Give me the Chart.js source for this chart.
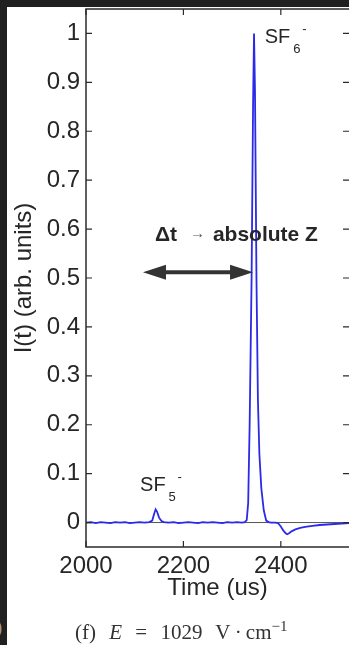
<!DOCTYPE html>
<html>
<head>
<meta charset="utf-8">
<script src="https://cdn.jsdelivr.net/npm/chart.js@4.4.1/dist/chart.umd.min.js"></script>
<style>
  html, body { margin: 0; padding: 0; background: #202020; overflow: hidden; }
  body { width: 349px; height: 645px; position: relative; }
  #panel { position: absolute; left: 7px; top: 7px; width: 342px; height: 638px; background: #fff; }
  #caption { position: absolute; left: 68px; top: 611px; font-family: "Liberation Serif", "DejaVu Serif", serif;
             font-size: 21px; color: #333; white-space: nowrap; word-spacing: 8px; }
  #caption sup { font-size: 15px; }
  #prev { position: absolute; left: -5px; top: 614px; font-family: "Liberation Serif", serif; font-size: 22px; color: #999; }
</style>
</head>
<body>
<div id="prev">)</div>
<div id="panel">
  <canvas id="chart"></canvas>
  <div id="caption">(f) <i>E</i> = 1029 V&thinsp;·&thinsp;cm<sup>−1</sup></div>
</div>
<script>
// time of flight (us) and normalised current I(t)
var timeUs = [2000, 2010, 2020, 2030, 2040, 2050, 2060, 2070, 2080, 2090, 2100, 2110, 2120, 2130,
              2136, 2140, 2143, 2146, 2150, 2155, 2160, 2170, 2180, 2190, 2200, 2210, 2220, 2230,
              2240, 2250, 2260, 2270, 2280, 2290, 2300, 2310, 2320, 2326, 2330, 2333, 2336, 2340,
              2343, 2345, 2347, 2350, 2353, 2356, 2360, 2365, 2370, 2375, 2380, 2385, 2390, 2395,
              2400, 2405, 2410, 2413, 2417, 2422, 2430, 2440, 2450, 2465, 2480, 2495, 2510, 2525, 2540];
var current = [0.000, 0.001, -0.001, 0.001, 0.000, -0.001, 0.001, 0.000, 0.001, -0.001, 0.000, 0.001, 0.000, 0.001,
               0.004, 0.018, 0.027, 0.022, 0.010, 0.003, 0.001, 0.000, 0.001, -0.001, 0.000, 0.001, 0.000, -0.001,
               0.001, 0.000, 0.001, 0.000, -0.001, 0.001, 0.000, 0.001, 0.000, 0.001, 0.005, 0.04, 0.20, 0.50,
               0.85, 1.00, 0.88, 0.50, 0.25, 0.14, 0.07, 0.025, 0.004, 0.001, 0.000, 0.000, 0.000, -0.002,
               -0.008, -0.016, -0.022, -0.024, -0.022, -0.018, -0.014, -0.011, -0.009, -0.007, -0.005, -0.004, -0.003, -0.002, -0.001];

// zero reference line
var zeroTimes = [2000, 2540];
var zeroLevel = [0, 0];

var xTicks = [2000, 2200, 2400];
var yTicks = [0, 0.1, 0.2, 0.3, 0.4, 0.5, 0.6, 0.7, 0.8, 0.9, 1];
var yTickLabels = ["0", "0.1", "0.2", "0.3", "0.4", "0.5", "0.6", "0.7", "0.8", "0.9", "1"];

var ink = "#262626";
var sans = "'Liberation Sans', Arial, sans-serif";

function chem(ctx, x, y, base, sub, sup) {
    ctx.font = "20px " + sans;
    ctx.fillText(base, x, y);
    var w = ctx.measureText(base).width;
    ctx.font = "13px " + sans;
    ctx.fillText(sub, x + w + 3, y + 10);
    ctx.fillText(sup, x + w + 12, y - 10);
}

var axesAndNotes = {
    id: "axesAndNotes",
    afterDraw: function(chart) {
        var ctx = chart.ctx, xs = chart.scales.x, ys = chart.scales.y, a = chart.chartArea;
        ctx.save();

        // box (right side runs off the page)
        ctx.strokeStyle = "#2b2b2b";
        ctx.lineWidth = 1.5;
        ctx.beginPath();
        ctx.moveTo(a.right + 2, a.top);
        ctx.lineTo(a.left, a.top);
        ctx.lineTo(a.left, a.bottom);
        ctx.lineTo(a.right + 2, a.bottom);
        ctx.stroke();

        // inward ticks
        ctx.lineWidth = 1.2;
        ctx.beginPath();
        xTicks.forEach(function(v) {
            var px = xs.getPixelForValue(v);
            ctx.moveTo(px, a.bottom); ctx.lineTo(px, a.bottom - 6);
            ctx.moveTo(px, a.top); ctx.lineTo(px, a.top + 6);
        });
        yTicks.forEach(function(v) {
            var py = ys.getPixelForValue(v);
            ctx.moveTo(a.left, py); ctx.lineTo(a.left + 6, py);
            ctx.moveTo(a.right, py); ctx.lineTo(a.right - 6, py);
        });
        ctx.stroke();

        // ion labels
        ctx.fillStyle = ink;
        ctx.textBaseline = "alphabetic";
        ctx.textAlign = "left";
        chem(ctx, xs.getPixelForValue(2367), ys.getPixelForValue(0.98), "SF", "6", "-");
        chem(ctx, xs.getPixelForValue(2111), ys.getPixelForValue(0.0635), "SF", "5", "-");

        // drift time annotation
        var tx = xs.getPixelForValue(2141.5), ty = ys.getPixelForValue(0.576);
        ctx.font = "bold 21px " + sans;
        ctx.fillText("\u0394t", tx, ty);
        ctx.fillText("absolute Z", tx + 58, ty);
        ctx.font = "15px " + sans;
        ctx.fillStyle = "#555";
        ctx.fillText("\u2192", tx + 35, ty - 3);

        // double arrow
        var x0 = xs.getPixelForValue(2117), x1 = xs.getPixelForValue(2343), ay = ys.getPixelForValue(0.512);
        ctx.fillStyle = "#333";
        ctx.strokeStyle = "#333";
        ctx.lineWidth = 4;
        ctx.beginPath();
        ctx.moveTo(x0 + 18, ay); ctx.lineTo(x1 - 18, ay);
        ctx.stroke();
        ctx.beginPath();
        ctx.moveTo(x0, ay); ctx.lineTo(x0 + 23, ay - 7.5); ctx.lineTo(x0 + 23, ay + 7.5); ctx.closePath();
        ctx.moveTo(x1, ay); ctx.lineTo(x1 - 23, ay - 7.5); ctx.lineTo(x1 - 23, ay + 7.5); ctx.closePath();
        ctx.fill();

        ctx.restore();
    }
};

var ctx = document.getElementById("chart");

var chart = new Chart(ctx, {
    type: "line",
    data: {
        datasets: [
            {
                label: "I(t)",
                data: timeUs.map(function(t, i) { return { x: t, y: current[i] }; }),
                borderColor: "#2a2ae8",
                borderWidth: 1.8,
                pointRadius: 0,
                tension: 0,
                order: 1
            },
            {
                label: "zero",
                data: zeroTimes.map(function(t, i) { return { x: t, y: zeroLevel[i] }; }),
                borderColor: "#555",
                borderWidth: 1,
                pointRadius: 0,
                order: 2
            }
        ]
    },
    options: {
        responsive: true,
        maintainAspectRatio: false,
        animation: false,
        layout: { padding: { top: 2, right: 0, bottom: 38, left: 0 } },
        plugins: {
            legend: { display: false },
            tooltip: { enabled: false }
        },
        scales: {
            x: {
                type: "linear",
                min: 2000,
                max: 2540,
                afterBuildTicks: function(s) { s.ticks = xTicks.map(function(v) { return { value: v }; }); },
                afterFit: function(s) { s.height = 60; s.paddingLeft = 0; s.paddingRight = 0; },
                grid: { display: false, drawTicks: false },
                border: { display: false },
                ticks: {
                    padding: 5,
                    color: ink,
                    autoSkip: false,
                    maxRotation: 0,
                    font: { family: sans, size: 24 },
                    callback: function(v) { return String(v); }
                },
                title: {
                    display: true,
                    text: "Time (us)",
                    color: ink,
                    font: { family: sans, size: 24 },
                    padding: { top: 0, bottom: 4 }
                }
            },
            y: {
                min: -0.05,
                max: 1.05,
                afterBuildTicks: function(s) { s.ticks = yTicks.map(function(v) { return { value: v }; }); },
                afterFit: function(s) { s.width = 79; s.paddingTop = 0; s.paddingBottom = 0; },
                grid: { display: false, drawTicks: false },
                border: { display: false },
                ticks: {
                    padding: 6,
                    color: ink,
                    autoSkip: false,
                    font: { family: sans, size: 24 },
                    callback: function(v) { return yTickLabels[yTicks.indexOf(v)]; }
                },
                title: {
                    display: true,
                    text: "I(t) (arb. units)",
                    color: ink,
                    font: { family: sans, size: 24 },
                    padding: { top: 3, bottom: 0 }
                }
            }
        }
    },
    plugins: [axesAndNotes]
});
</script>
</body>
</html>
